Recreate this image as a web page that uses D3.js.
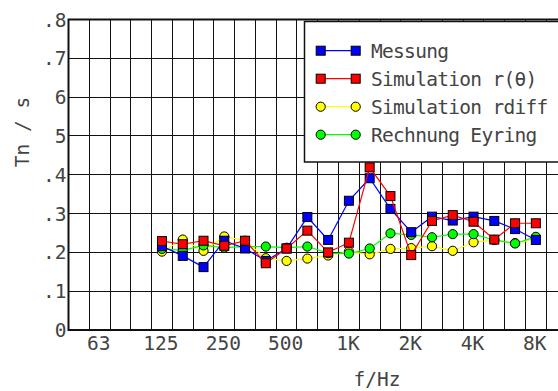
<!DOCTYPE html>
<html>
<head>
<meta charset="utf-8">
<script src="https://cdn.jsdelivr.net/npm/d3@7"></script>
<style>
    html, body { margin: 0; padding: 0; background: #fff; }
    text { font-family: 'DejaVu Sans Mono', monospace; fill: #444; }
</style>
</head>
<body>
<div id="chart"></div>
<script>
// third-octave bands on the x axis (the 10k band is cut off by the page edge)
const bands = ['50', '63', '80', '100', '125', '160', '200', '250', '315', '400', '500', '630',
    '800', '1k', '1.25k', '1.6k', '2k', '2.5k', '3.15k', '4k', '5k', '6.3k', '8k', '10k'];
const freqs = ['125', '160', '200', '250', '315', '400', '500', '630', '800', '1k', '1.25k',
    '1.6k', '2k', '2.5k', '3.15k', '4k', '5k', '6.3k', '8k'];
const xTickBands = ['63', '125', '250', '500', '1k', '2k', '4k', '8k'];
const xTickLabels = ['63', '125', '250', '500', '1K', '2K', '4K', '8K'];
const yTicks = [0, .1, .2, .3, .4, .5, .6, .7, .8];
const yTickLabels = ['0', '.1', '.2', '.3', '.4', '5', '6', '.7', '.8'];

const messung = [0.216, 0.191, 0.162, 0.230, 0.210, 0.178, 0.210, 0.291, 0.232, 0.333, 0.391,
    0.312, 0.252, 0.292, 0.282, 0.292, 0.281, 0.260, 0.232];
const simTheta = [0.229, 0.221, 0.230, 0.217, 0.230, 0.172, 0.210, 0.256, 0.200, 0.225, 0.419,
    0.345, 0.193, 0.281, 0.296, 0.279, 0.233, 0.275, 0.275];
const simDiff = [0.202, 0.233, 0.204, 0.241, 0.230, 0.185, 0.178, 0.184, 0.192, 0.202, 0.195,
    0.209, 0.211, 0.216, 0.204, 0.226, 0.232, 0.224, 0.235];
const eyring = [0.209, 0.205, 0.218, 0.212, 0.215, 0.215, 0.212, 0.215, 0.198, 0.197, 0.210,
    0.249, 0.245, 0.239, 0.247, 0.247, 0.232, 0.223, 0.240];

// drawing order: yellow, green, blue, red (red ends up on top)
const series = [
    {name: 'Simulation rdiff', values: simDiff, color: '#ffff00', shape: 'circle'},
    {name: 'Rechnung Eyring', values: eyring, color: '#00ff00', shape: 'circle'},
    {name: 'Messung', values: messung, color: '#0000ff', shape: 'square'},
    {name: 'Simulation r(θ)', values: simTheta, color: '#ff0000', shape: 'square'}
];
const legendOrder = ['Messung', 'Simulation r(θ)', 'Simulation rdiff', 'Rechnung Eyring'];

const W = 558, H = 391;
const m = {left: 68.5, top: 19.5, bottom: 330, right: 567};

const svg = d3.select('#chart').append('svg')
    .attr('width', W).attr('height', H);
svg.append('rect').attr('width', W).attr('height', H).attr('fill', '#fff');

const x = d3.scaleBand().domain(bands).range([m.left, m.right]).padding(0);
const y = d3.scaleLinear().domain([0, .8]).range([m.bottom, m.top]);
const cx = (f) => x(f) + x.bandwidth() / 2;

// grid
const grid = svg.append('g').attr('stroke', '#111').attr('stroke-width', 1).attr('shape-rendering', 'crispEdges');
grid.selectAll('line.v').data(bands).enter().append('line')
    .attr('x1', d => x(d)).attr('x2', d => x(d))
    .attr('y1', m.top - 1).attr('y2', m.bottom);
grid.selectAll('line.h').data(yTicks).enter().append('line')
    .attr('x1', m.left).attr('x2', m.right)
    .attr('y1', d => y(d)).attr('y2', d => y(d));

// frame
svg.append('path')
    .attr('d', `M${m.right},${m.top}H${m.left}V${m.bottom}H${m.right}`)
    .attr('fill', 'none').attr('stroke', '#111').attr('stroke-width', 2);

// tick labels
svg.selectAll('text.ytick').data(yTicks).enter().append('text')
    .attr('x', m.left - 2).attr('y', d => y(d) + 7)
    .attr('text-anchor', 'end').attr('font-size', 19.5)
    .text((d, i) => yTickLabels[i]);
svg.selectAll('text.xtick').data(xTickBands).enter().append('text')
    .attr('x', d => cx(d) - 1).attr('y', 350)
    .attr('text-anchor', 'middle').attr('font-size', 19.5)
    .text((d, i) => xTickLabels[i]);

// axis titles
svg.append('text')
    .attr('transform', 'translate(29,132) rotate(-90)')
    .attr('text-anchor', 'middle').attr('font-size', 19.5)
    .text('Tn / s');
svg.append('text')
    .attr('x', 377).attr('y', 386)
    .attr('text-anchor', 'middle').attr('font-size', 19.5)
    .text('f/Hz');

const drawMarker = (g, shape, color, px, py) => {
    if (shape === 'square') {
        g.append('rect')
            .attr('x', px - 4.5).attr('y', py - 4.5).attr('width', 9).attr('height', 9)
            .attr('fill', color).attr('stroke', '#000').attr('stroke-width', 1);
    } else {
        g.append('circle')
            .attr('cx', px).attr('cy', py).attr('r', 4.6)
            .attr('fill', color).attr('stroke', '#000').attr('stroke-width', 1);
    }
};

// series
const line = d3.line().x((d, i) => cx(freqs[i])).y(d => y(d));
series.forEach(s => {
    const g = svg.append('g');
    g.append('path').datum(s.values)
        .attr('d', line).attr('fill', 'none')
        .attr('stroke', s.color).attr('stroke-width', 1.2);
    s.values.forEach((v, i) => drawMarker(g, s.shape, s.color, cx(freqs[i]), y(v)));
});

// legend
const lg = svg.append('g');
lg.append('rect')
    .attr('x', 304.5).attr('y', 21.5).attr('width', 300).attr('height', 140.5)
    .attr('fill', '#fff').attr('stroke', '#111').attr('stroke-width', 1.5);
legendOrder.forEach((name, i) => {
    const s = series.find(d => d.name === name);
    const ly = 50.7 + i * 28;
    lg.append('line')
        .attr('x1', 320.7).attr('x2', 355.7).attr('y1', ly).attr('y2', ly)
        .attr('stroke', s.color).attr('stroke-width', 1.2);
    drawMarker(lg, s.shape, s.color, 320.7, ly);
    drawMarker(lg, s.shape, s.color, 355.7, ly);
    lg.append('text')
        .attr('x', 371).attr('y', ly + 7)
        .attr('font-size', 19.5).attr('letter-spacing', -0.7)
        .text(name);
});
</script>
</body>
</html>
